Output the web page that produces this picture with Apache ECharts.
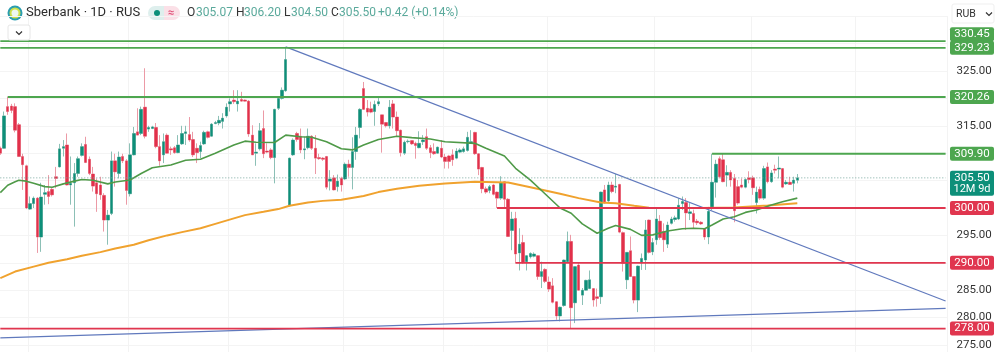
<!DOCTYPE html>
<html>
<head>
<meta charset="utf-8">
<title>Sberbank 1D</title>
<script src="https://cdn.jsdelivr.net/npm/echarts@6/dist/echarts.min.js"></script>
<style>
  html, body { margin: 0; padding: 0; background: #fff; }
  #chart { width: 1000px; height: 352px; }
</style>
</head>
<body>
<div id="chart"></div>
<script>
// daily candles
const opens = [
  310.9,310.9,318.5,318.6,318.5,315.2,309.4,307.7,299.8,300.8,
  301.8,294.7,302.5,303.0,303.4,305.7,307.5,310.9,311.5,304.2,
  304.6,306.3,309.6,311.6,308.9,306.2,304.6,304.2,302.3,297.8,
  299.0,308.6,306.3,309.4,308.6,302.6,309.7,313.9,313.6,318.4,
  314.4,314.5,314.7,311.2,309.7,313.3,310.8,311.0,310.1,311.7,
  313.6,313.4,312.5,310.9,310.3,311.7,313.9,313.1,315.4,315.5,
  315.8,316.8,319.0,319.7,319.0,319.8,319.7,319.5,313.3,310.0,
  310.8,314.5,310.4,310.6,309.2,318.2,320.0,321.4,300.4,309.7,
  313.6,313.1,310.6,311.0,313.1,310.9,309.2,309.1,309.4,304.9,
  305.5,303.9,305.4,305.3,308.0,307.4,310.3,314.7,321.8,318.2,
  318.1,317.6,319.0,317.0,315.6,315.0,319.0,316.6,314.2,310.0,
  312.1,312.3,311.8,311.0,312.1,313.0,311.0,310.3,310.0,310.9,
  309.3,309.5,309.7,309.1,310.2,310.3,310.5,311.8,313.8,309.9,
  307.4,303.5,303.2,304.2,302.9,301.8,304.8,301.6,295.9,298.1,
  291.8,293.7,290.2,291.1,291.2,291.3,287.5,288.8,286.5,285.8,
  282.9,280.3,282.2,290.2,293.9,282.7,289.6,284.1,285.0,285.3,
  285.3,283.8,283.8,303.3,301.3,304.2,303.8,304.3,295.5,286.9,
  292.2,287.5,283.2,290.0,290.5,297.8,292.0,294.2,297.6,295.7,
  293.4,297.2,297.9,298.0,300.8,301.0,299.0,299.0,297.6,297.4,
  296.2,294.7,299.9,304.7,309.0,308.8,306.0,306.5,305.4,303.9,
  304.2,303.8,305.5,305.5,301.0,303.4,301.8,307.5,304.8,307.1,
  307.1,307.2,304.4,304.7,304.5,305.07
]
const closes = [
  310.0,316.8,317.6,317.8,314.2,309.4,307.9,300.0,300.8,301.8,
  294.7,302.0,302.8,302.1,302.4,305.4,310.8,311.2,304.2,304.5,
  306.3,309.0,311.2,308.3,306.3,304.0,302.6,302.4,297.8,298.7,
  308.6,306.6,309.3,308.6,303.2,309.7,313.6,313.3,318.0,313.1,
  314.7,314.8,311.2,308.6,312.1,310.0,310.6,310.1,311.5,313.6,
  313.9,312.4,309.7,310.1,311.4,313.8,312.9,315.3,315.6,316.0,
  316.4,318.4,319.4,319.4,319.5,319.5,319.5,313.5,309.7,310.2,
  314.1,309.9,310.2,309.2,318.0,320.0,321.5,327.1,309.1,312.4,
  312.5,310.6,310.8,313.1,310.9,309.1,309.0,308.9,303.8,305.3,
  303.3,304.9,304.2,308.0,307.4,310.3,313.3,318.0,318.0,317.5,
  317.5,318.9,319.4,315.3,315.0,318.4,316.6,314.1,310.1,312.0,
  312.2,311.7,311.4,311.8,312.4,310.9,310.1,309.9,311.1,309.3,
  308.5,308.5,308.8,310.4,310.6,310.8,312.9,312.1,309.9,307.1,
  303.5,302.9,303.9,302.5,301.8,304.6,301.6,294.8,298.0,291.6,
  293.4,290.0,291.3,291.7,291.6,287.5,288.4,286.6,285.2,282.8,
  280.3,281.9,290.5,293.9,281.8,289.3,285.0,285.0,286.8,286.9,
  283.2,283.5,302.9,300.9,304.2,303.0,304.0,295.6,289.9,291.9,
  287.5,283.2,289.4,290.8,296.0,291.9,293.7,298.0,294.6,294.2,
  296.9,298.0,298.2,300.5,301.2,299.1,299.3,297.4,297.3,297.1,
  294.7,299.4,304.7,308.0,305.7,304.8,306.5,305.1,299.5,300.9,
  303.8,305.2,305.2,303.7,302.9,301.8,307.2,304.8,306.4,306.9,
  307.3,303.8,304.7,304.3,305.1,305.5
]
const lows = [
  309.7,310.8,317.0,317.3,313.8,309.3,303.3,299.8,299.65,300.0,
  291.8,292.0,300.6,300.7,302.1,303.6,307.4,309.4,304.1,300.6,
  296.6,305.7,309.4,308.2,306.0,303.0,299.3,301.5,295.7,293.3,
  298.7,303.9,305.4,308.2,300.6,302.1,309.6,313.3,313.3,312.7,
  313.9,314.4,310.9,307.7,308.2,309.9,309.7,309.9,310.0,311.5,
  311.5,312.1,309.3,308.2,309.1,311.5,312.7,313.0,315.3,315.1,
  314.5,316.5,317.6,319.0,317.6,319.4,319.4,313.0,309.7,307.7,
  310.5,309.1,310.0,308.9,304.5,317.9,319.8,321.2,300.3,309.5,
  312.1,310.0,308.9,310.7,310.6,306.2,308.8,308.6,303.4,303.2,
  303.2,303.0,303.0,305.1,305.7,303.4,308.8,312.7,317.9,316.7,
  317.3,315.0,318.6,310.1,314.7,314.5,314.5,313.0,309.4,309.7,
  311.8,311.5,309.0,310.9,311.5,310.6,309.1,309.7,309.9,309.1,
  307.2,307.2,307.7,308.9,310.0,310.1,310.3,311.7,309.7,306.0,
  302.7,302.6,302.7,302.3,300.0,301.5,300.0,294.7,292.3,289.9,
  288.6,289.8,288.6,290.8,291.0,286.9,285.4,286.3,284.7,282.6,
  279.6,279.3,282.0,290.0,278.1,279.0,284.9,282.3,284.9,285.2,
  282.0,282.0,282.5,300.8,301.1,302.7,302.7,295.4,288.4,285.2,
  287.4,282.6,281.0,288.7,288.7,291.7,291.4,293.3,294.2,292.0,
  292.7,297.0,297.5,297.8,299.65,296.0,297.8,296.3,296.9,296.9,
  294.2,293.4,299.6,301.9,305.4,304.7,303.9,303.9,297.4,300.6,
  303.6,303.6,304.5,302.4,299.0,301.5,301.5,304.5,304.6,306.3,
  305.4,303.6,304.2,304.2,303.0,304.5
]
const highs = [
  311.2,317.6,320.3,319.0,319.1,315.5,309.9,307.9,302.1,302.1,
  302.0,304.6,304.2,306.0,303.7,307.5,311.7,312.4,313.6,309.4,
  308.2,309.4,311.8,313.0,309.4,307.5,305.4,305.7,302.7,299.65,
  310.3,309.9,310.3,309.9,308.9,311.8,314.8,318.2,318.5,325.5,
  315.0,315.0,315.5,313.3,313.6,313.6,311.2,311.3,313.3,315.0,
  315.0,316.6,313.9,311.8,312.1,314.1,314.1,315.5,315.9,316.8,
  317.3,319.1,320.0,321.5,321.5,321.2,319.8,319.7,315.1,311.8,
  315.5,317.8,311.8,310.9,318.1,320.3,322.0,329.4,309.2,312.7,
  313.9,314.5,313.0,314.5,313.3,313.3,309.9,309.3,309.5,306.9,
  306.0,306.1,305.7,308.3,308.8,312.9,314.8,318.2,323.0,319.7,
  319.4,319.6,320.4,317.0,315.7,319.7,319.7,317.6,314.3,312.3,
  312.5,312.4,312.1,314.0,313.3,314.5,311.5,311.8,311.2,312.4,
  309.9,309.7,310.7,310.9,310.9,311.2,313.9,314.2,313.9,310.0,
  307.5,303.9,304.2,304.4,303.0,305.8,304.9,301.8,299.3,299.3,
  296.3,295.1,291.4,291.9,291.9,291.4,290.2,289.0,287.5,287.2,
  283.0,282.0,290.6,295.7,295.1,289.4,290.1,285.4,286.9,288.6,
  285.4,285.3,303.0,304.2,304.8,304.8,306.2,304.4,295.7,291.9,
  294.8,287.6,289.5,291.7,297.8,297.9,294.5,299.9,298.7,297.2,
  297.5,298.4,298.6,301.8,302.1,301.8,300.9,299.7,298.0,297.6,
  296.3,300.2,309.9,308.8,309.4,309.9,307.8,306.9,306.2,305.1,
  305.4,305.4,306.7,305.9,303.9,303.9,307.7,308.3,306.9,307.9,
  309.4,307.3,305.1,305.7,305.7,306.2
]

// moving averages, read at the candle index where the line was legible
const fastMaIdx = [0,2,4,5,7,9,12,14,17,20,22,25,29,31,35,38,41,46,50,54,58,63,66,69,74,77,81,84,88,92,95,98,102,107,111,116,120,128,131,136,139,143,146,151,154,157,161,164,166,170,173,176,180,184,187,190,192,195,198,201,204,208,211,215]
const fastMa = [302.8,304.15,304.8,305.05,304.9,304.5,303.9,303.8,304.4,304.9,305.2,305.05,304.4,304.75,305.1,306.3,307.35,307.85,308.7,308.9,310.0,311.5,312.2,312.0,311.95,313.3,313.0,312.9,312.1,310.8,310.6,311.5,312.5,313.1,312.85,312.6,312.1,311.8,310.9,309.5,307.25,305.1,303.2,300.0,299.05,297.1,295.4,296.3,296.8,296.1,295.0,295.1,295.8,296.2,296.3,296.2,296.9,298.0,298.4,299.2,299.65,300.55,301.15,301.8]
const slowMaIdx = [0,4,9,13,18,22,27,31,36,40,45,49,54,58,63,66,71,75,78,83,87,92,98,102,107,113,120,128,137,143,151,156,162,166,171,175,180,189,198,207,215]
const slowMa = [287.2,288.4,289.3,290.0,290.65,291.3,291.95,292.6,293.3,294.1,295.0,295.6,296.3,297.1,298.1,298.7,299.3,299.8,300.4,301.0,301.3,301.5,302.2,302.9,303.5,304.05,304.45,304.8,304.65,303.8,302.6,301.8,301.0,300.85,300.4,300.05,300.0,300.0,300.1,300.45,300.85]

// drawn levels
const levelPrices = [330.45, 329.23, 320.26, 309.9, 300, 290, 278]
const levelStarts = [0, 0, 2, 192, 134, 139, 0]
const levelColors = ['#4da64f', '#4da64f', '#4da64f', '#4da64f', '#e0364f', '#e0364f', '#e0364f']
const levelLabels = ['330.45', '329.23', '320.26', '309.90', '300.00', '290.00', '278.00']
const levelTagShift = [-7, 0, 0, 0, 0, 0, 0]

// trend lines: [idx, price] ends
const trendDown = [[77, 329.4], [255, 283.03]]
const trendUp = [[0, 276.3], [255, 281.7]]

const lastPrice = 305.5
const lastIdx = 255
const shownTicks = [325, 315, 295, 285, 280, 275]
const monthBreaks = [8, 35, 62, 93, 120, 148, 177, 203, 231]

const categories = Array.from({length: lastIdx + 1}, (_, i) => String(i))
const fullCandles = opens.map((o, i) => [o, closes[i], lows[i], highs[i]])
const bodyOnly = opens.map((o, i) => [o, closes[i], Math.min(o, closes[i]), Math.max(o, closes[i])])

const upColor = '#0d8f79'
const downColor = '#e2304a'
const font = 'Roboto'

const lineSeries = (data, color, width, extra) => Object.assign({
  type: 'line',
  data,
  symbol: 'none',
  silent: true,
  lineStyle: {color, width},
}, extra)

const chart = echarts.init(document.getElementById('chart'))

const headerText = (x, text, fill, size) => ({
  type: 'text', x, y: 13,
  style: {text, fill, font: `${size || 12}px ${font}`, textVerticalAlign: 'middle'}
})
const chevron = (cx, cy) => ({
  type: 'polyline',
  shape: {points: [[cx - 3, cy - 1.5], [cx, cy + 1.5], [cx + 3, cy - 1.5]]},
  style: {stroke: '#333', lineWidth: 1.2, fill: null}
})

chart.setOption({
  animation: false,
  backgroundColor: '#fff',
  grid: {left: -1.55, top: 16.2, width: 949, height: 356.2, outerBoundsMode: 'none'},
  xAxis: {
    type: 'category',
    data: categories,
    boundaryGap: true,
    axisLine: {show: false},
    axisTick: {show: false},
    axisLabel: {show: false},
    splitLine: {
      show: true,
      interval: (index) => monthBreaks.includes(index),
      lineStyle: {color: '#f3f3f3', width: 1}
    }
  },
  yAxis: {
    type: 'value',
    position: 'right',
    min: 270,
    max: 335,
    interval: 5,
    axisLine: {show: false},
    axisTick: {show: false},
    splitLine: {lineStyle: {color: '#f4f4f4', width: 1}},
    axisLabel: {
      margin: 9,
      color: '#333',
      fontFamily: font,
      fontSize: 11.5,
      formatter: (val) => shownTicks.includes(val) ? val.toFixed(2) : ''
    }
  },
  series: [
    // wicks in a paler tone, bodies drawn on top of them
    {
      type: 'candlestick',
      data: fullCandles,
      barWidth: 3,
      silent: true,
      itemStyle: {color: '#7fc4b8', color0: '#f09aa6', borderColor: '#8cc0b6', borderColor0: '#ec9aa6', borderWidth: 1},
    },
    {
      type: 'candlestick',
      data: bodyOnly,
      barWidth: 3,
      silent: true,
      itemStyle: {color: upColor, color0: downColor, borderColor: upColor, borderColor0: downColor, borderWidth: 0},
    },
    lineSeries(slowMaIdx.map((x, i) => [x, slowMa[i]]), '#f0a22e', 2),
    lineSeries(fastMaIdx.map((x, i) => [x, fastMa[i]]), '#4f9a48', 1.6),
    lineSeries(trendDown, '#6079bd', 1.2),
    lineSeries(trendUp, '#6079bd', 1.2),
    lineSeries([[0, lastPrice], [lastIdx, lastPrice]], '#7aa89f', 1, {
      lineStyle: {color: '#7aa89f', width: 1, type: [1, 2]}
    }),
    ...levelPrices.map((p, i) => lineSeries([[levelStarts[i], p], [lastIdx, p]], levelColors[i], 1.8)),
    // price tags on the axis column
    {
      type: 'custom',
      silent: true,
      data: levelPrices.map((p, i) => [0, p, i]),
      encode: {x: 0, y: 1},
      z: 5,
      renderItem: (params, api) => {
        const i = api.value(2)
        const y = api.coord([0, api.value(1)])[1] + levelTagShift[i]
        return {
          type: 'group',
          children: [
            {type: 'rect', shape: {x: 950, y: y - 7, width: 44, height: 14, r: 2}, style: {fill: levelColors[i]}},
            {type: 'text', x: 972, y, style: {text: levelLabels[i], fill: '#fff', font: `11.5px ${font}`, textAlign: 'center', textVerticalAlign: 'middle'}}
          ]
        }
      }
    },
    {
      type: 'custom',
      silent: true,
      data: [[0, lastPrice]],
      encode: {x: 0, y: 1},
      z: 5,
      renderItem: (params, api) => {
        const y = api.coord([0, api.value(1)])[1]
        return {
          type: 'group',
          children: [
            {type: 'rect', shape: {x: 950, y: y - 7, width: 44, height: 25, r: 2}, style: {fill: upColor}},
            {type: 'text', x: 972, y, style: {text: lastPrice.toFixed(2), fill: '#fff', font: `11.5px ${font}`, textAlign: 'center', textVerticalAlign: 'middle'}},
            {type: 'text', x: 972, y: y + 11, style: {text: '12M 9d', fill: '#fff', font: `11px ${font}`, textAlign: 'center', textVerticalAlign: 'middle'}}
          ]
        }
      }
    }
  ],
  graphic: [
    // logo
    {type: 'circle', shape: {cx: 15, cy: 13, r: 7.5}, style: {fill: '#2a9db0'}},
    {type: 'circle', shape: {cx: 15, cy: 13, r: 5.5}, style: {fill: '#cfe04a'}},
    {type: 'circle', shape: {cx: 15, cy: 13, r: 3.5}, style: {fill: '#eef7f0'}},
    headerText(26, 'Sberbank · 1D · RUS', '#2b2b2b', 13),
    // status pill
    {type: 'rect', shape: {x: 148, y: 6, width: 16, height: 14, r: [7, 0, 0, 7]}, style: {fill: '#deefed'}},
    {type: 'rect', shape: {x: 164, y: 6, width: 16, height: 14, r: [0, 7, 7, 0]}, style: {fill: '#fbe0e7'}},
    {type: 'circle', shape: {cx: 157, cy: 13, r: 3}, style: {fill: upColor}},
    {type: 'text', x: 171, y: 13, style: {text: '≈', fill: '#e0527a', font: `bold 11px ${font}`, textAlign: 'center', textVerticalAlign: 'middle'}},
    // ohlc readout
    headerText(187, 'O', '#333'), headerText(196, '305.07', '#5aa99b'),
    headerText(236, 'H', '#333'), headerText(244, '306.20', '#5aa99b'),
    headerText(284, 'L', '#333'), headerText(291, '304.50', '#5aa99b'),
    headerText(331, 'C', '#333'), headerText(339, '305.50', '#5aa99b'),
    headerText(378, '+0.42 (+0.14%)', '#5aa99b'),
    // collapse button
    {type: 'rect', z: 10, shape: {x: 8, y: 25, width: 22, height: 15, r: 2}, style: {fill: '#fff', stroke: '#e6e6e6', lineWidth: 1}},
    Object.assign(chevron(19, 33), {z: 11}),
    // currency selector
    {type: 'rect', shape: {x: 952, y: 4, width: 42, height: 19, r: 2}, style: {fill: '#fff', stroke: '#efefef', lineWidth: 1}},
    {type: 'text', x: 956, y: 14, style: {text: 'RUB', fill: '#333', font: `10.5px ${font}`, textVerticalAlign: 'middle'}},
    chevron(989, 14)
  ]
})
</script>
</body>
</html>
